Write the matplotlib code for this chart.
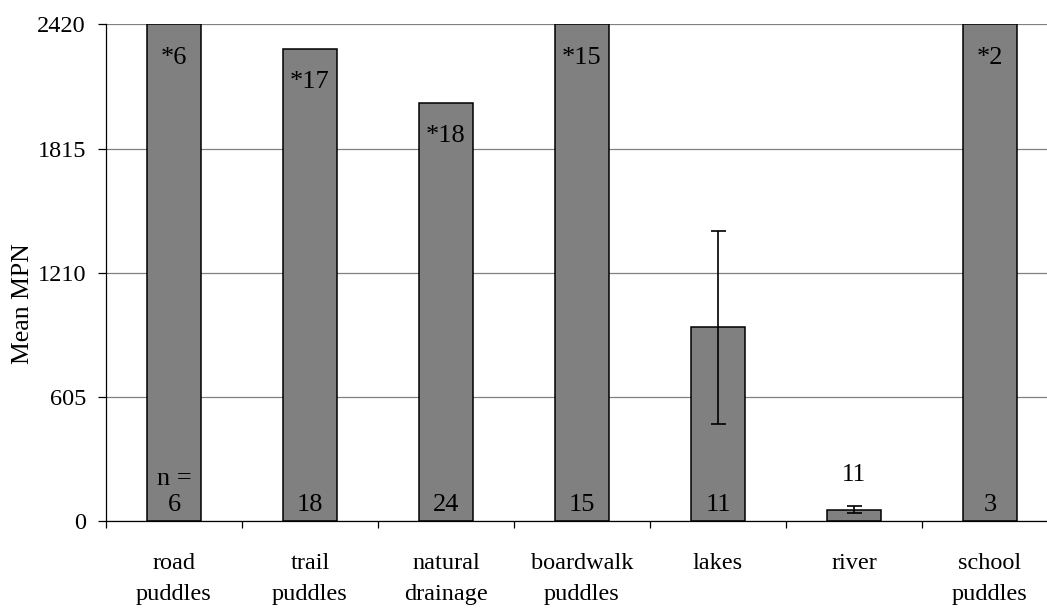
import matplotlib
matplotlib.use("Agg")
import matplotlib.pyplot as plt
import numpy as np

# ---- data ----
categories = ["road\npuddles", "trail\npuddles", "natural\ndrainage", "boardwalk\npuddles",
              "lakes", "river", "school\npuddles"]
mean_mpn = [2420, 2303, 2039, 2420, 945, 57, 2420]
errors = [0, 0, 0, 0, 471, 19, 0]
top_labels = ["*6", "*17", "*18", "*15", "", "", "*2"]
n_labels = ["n =\n6", "18", "24", "15", "11", "11", "3"]
y_ticks = [0, 605, 1210, 1815, 2420]

plt.rcParams['font.family'] = ['Liberation Serif', 'DejaVu Serif']

fig = plt.figure(figsize=(10.47, 6.09), dpi=100)
W, H = 1047, 609
left, right, top, bottom = 106, 1058, 24.5, 521.3
ax = fig.add_axes([left / W, 1 - bottom / H, (right - left) / W, (bottom - top) / H])

x = np.arange(len(categories)) + 0.5
ax.bar(x, mean_mpn, width=0.40, color="#808080", edgecolor="black", linewidth=1.1, zorder=3)

has_err = [e > 0 for e in errors]
ax.errorbar(x[has_err], np.array(mean_mpn)[has_err], yerr=np.array(errors)[has_err],
            fmt="none", ecolor="black", elinewidth=1.2, capsize=5.4, capthick=1.2, zorder=4)

ax.set_xlim(0, len(categories))
ax.set_ylim(0, 2420)
ax.set_yticks(y_ticks)
ax.set_yticklabels([str(t) for t in y_ticks], fontsize=17.5)
ax.yaxis.grid(True, color="#808080", linewidth=0.9, zorder=0)
ax.set_axisbelow(True)

ax.set_xticks(np.arange(len(categories) + 1))
ax.set_xticklabels([])
ax.set_xticks(x, minor=True)
ax.set_xticklabels(categories, minor=True, fontsize=17.5, linespacing=1.62)
ax.tick_params(axis="x", which="minor", length=0, pad=23)
ax.tick_params(axis="x", which="major", length=5, width=0.9, direction="out", color="black")
ax.tick_params(axis="y", length=5.8, width=0.9, pad=8.6, color="black")

for s in ["top", "right"]:
    ax.spines[s].set_visible(False)
for s in ["left", "bottom"]:
    ax.spines[s].set_linewidth(0.9)
    ax.spines[s].set_color("black")
    ax.spines[s].set_zorder(5)

for xi, v, e, tl, nl in zip(x, mean_mpn, errors, top_labels, n_labels):
    if tl:
        ax.annotate(tl, (xi, v), xytext=(0, -16), textcoords="offset points",
                    ha="center", va="top", fontsize=19, zorder=6)
    if v > 300:
        ax.annotate(nl, (xi, 0), xytext=(0, 3.5), textcoords="offset points",
                    ha="center", va="bottom", fontsize=19, linespacing=1.25, zorder=6)
    else:
        ax.annotate(nl, (xi, v + e), xytext=(0, 14), textcoords="offset points",
                    ha="center", va="bottom", fontsize=18, zorder=6)

fig.text(23 / W, 1 - 304 / H, "Mean MPN", rotation=90, ha="center", va="center", fontsize=18.5)

fig.savefig("out.png", dpi=100)
